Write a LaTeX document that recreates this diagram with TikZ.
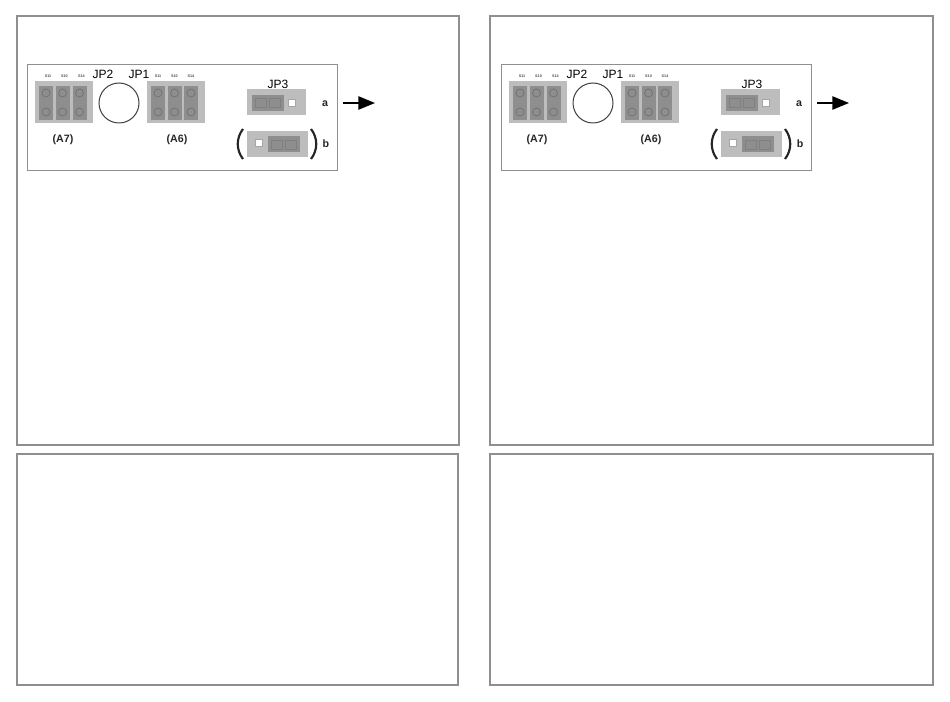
\documentclass[tikz,border=0pt]{standalone}
\usepackage{fontspec}
\setmainfont{Liberation Sans}
\usepackage{xcolor}
\usepackage{tikz}
\usetikzlibrary{calc}
\usetikzlibrary{arrows.meta}
\definecolor{framegray}{HTML}{8F8F8F}
\definecolor{blockgray}{HTML}{BDBDBD}
\definecolor{pingray}{HTML}{8E8E8E}
\tikzset{
  panelbox/.style={draw=framegray, line width=1.5pt, fill=white},
  holderbox/.style={draw=framegray, line width=.75pt, fill=white},
  blockbox/.style={draw=none, fill=blockgray, inner sep=0, minimum width=43.5pt, minimum height=32pt},
  columnbox/.style={draw=none, fill=pingray, inner sep=0, minimum width=10.5pt, minimum height=25.5pt},
  pinring/.style={circle, draw=black!55, line width=.6pt, inner sep=0, minimum size=6pt},
  jumperbox/.style={draw=none, fill=blockgray, inner sep=0, minimum width=44.5pt, minimum height=19pt},
  jumperpin/.style={draw=none, fill=pingray, inner sep=0, minimum width=24pt, minimum height=12pt},
  jumperseg/.style={draw=black!50, line width=.4pt, inner sep=0, minimum width=8pt, minimum height=7pt},
  jumperhole/.style={draw=black!35, line width=.4pt, fill=white, inner sep=0, minimum size=5.5pt},
  tinylabel/.style={font=\fontsize{2.8}{3}\selectfont\bfseries, text=black!70, inner sep=0},
  jplabel/.style={font=\fontsize{9}{10}\selectfont, inner sep=0},
  keylabel/.style={font=\fontsize{8}{9}\selectfont\bfseries, text=black!85, inner sep=0}
}
\begin{document}
\begin{tikzpicture}[x=.75pt, y=-.75pt]
\useasboundingbox (0,0) rectangle (950,702);

\draw[panelbox] (16.5,16.5) rectangle (459,445);
\draw[panelbox] (16.5,453.5) rectangle (458,685);
\draw[panelbox] (490,16.5) rectangle (933,445);
\draw[panelbox] (490,453.5) rectangle (933,685);

\foreach \pn/\px in {l/0,r/474} {
\begin{scope}[xshift=\px*.75pt]
  \draw[holderbox] (27.5,64.5) rectangle (337.5,171);

  % terminal blocks
  \node[blockbox] (\pn A7) at (64,102) {};
  \node[blockbox] (\pn A6) at (176,102) {};
  \foreach \cn/\cx/\ct in {a/46/S11,b/62.5/S10,c/79.5/S14} {
    \node[columnbox] (\pn A7\cn) at (\cx,103) {};
    \node[pinring] (\pn A7\cn u) at (\cx,93) {};
    \node[pinring] (\pn A7\cn d) at (\cx,112) {};
    \node[tinylabel] (\pn A7\cn t) at (\cx+2,76) {\ct};
  }
  \foreach \cn/\cx/\ct in {a/158/S11,b/174.5/S10,c/191/S14} {
    \node[columnbox] (\pn A6\cn) at (\cx,103) {};
    \node[pinring] (\pn A6\cn u) at (\cx,93) {};
    \node[pinring] (\pn A6\cn d) at (\cx,112) {};
    \node[tinylabel] (\pn A6\cn t) at (\cx,76) {\ct};
  }
  \node[keylabel] (\pn A7l) at (63,140) {(A7)};
  \node[keylabel] (\pn A6l) at (177,140) {(A6)};

  % jumpers
  \node[circle, draw=black!75, line width=.75pt, inner sep=0, minimum size=30pt] (\pn hole) at (119,103) {};
  \node[jplabel] (\pn JP2) at (103,74) {JP2};
  \node[jplabel] (\pn JP1) at (139,74) {JP1};
  \node[jplabel] (\pn JP3) at (278,84) {JP3};

  \node[jumperbox] (\pn ja) at (276.5,102) {};
  \node[jumperpin] (\pn japin) at (268,103) {};
  \node[jumperseg] (\pn jasa) at (261,103) {};
  \node[jumperseg] (\pn jasb) at (275,103) {};
  \node[jumperhole] (\pn jahole) at (292,103) {};
  \node[keylabel] (\pn a) at (325,104) {a};

  \node[jumperbox, minimum width=46pt] (\pn jb) at (277.5,144) {};
  \node[jumperpin] (\pn jbpin) at (284,144.5) {};
  \node[jumperseg] (\pn jbsa) at (277,144.5) {};
  \node[jumperseg] (\pn jbsb) at (291,144.5) {};
  \node[jumperhole] (\pn jbhole) at (259,143) {};
  \node[keylabel] (\pn b) at (326,144) {b};
  \draw[black!85, line width=1.6pt] (243,129) .. controls (236,138) and (236,150) .. (243,159);
  \draw[black!85, line width=1.6pt] (311,129) .. controls (318,138) and (318,150) .. (311,159);

  % arrow
  \coordinate (\pn from) at (343,103);
  \coordinate (\pn to) at (375,103);
  \draw[black, line width=1.1pt, -{Triangle[length=12.5pt, width=10pt]}] (\pn from)--(\pn to);
\end{scope}
}
\end{tikzpicture}
\end{document}
